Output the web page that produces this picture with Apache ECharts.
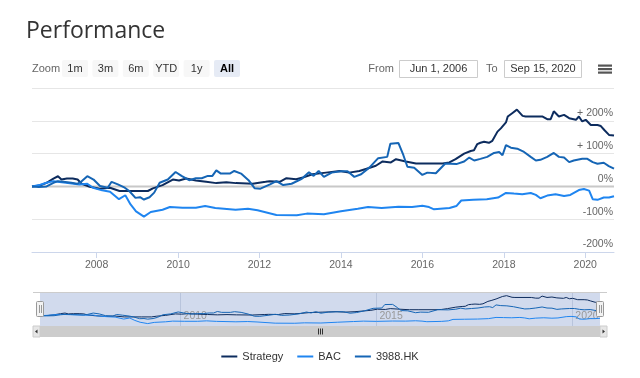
<!DOCTYPE html>
<html><head><meta charset="utf-8">
<script src="https://cdn.jsdelivr.net/npm/echarts@6/dist/echarts.min.js"></script>
<style>html,body{margin:0;padding:0;background:#fff}#c{width:640px;height:378px}</style>
</head><body><div id="c"></div>
<script>
// ---------- data ----------
const seriesNames = ['Strategy', 'BAC', '3988.HK'];
const seriesColors = ['#0d2c5e', '#1f85f0', '#1565b5'];

const strategyDates = ['2006-06-01','2006-08-15','2006-10-10','2006-12-10','2007-01-20','2007-02-20','2007-04-10','2007-06-01','2007-07-15','2007-08-20','2007-11-01','2008-01-30','2008-04-30','2008-07-25','2009-01-01','2009-04-05','2009-05-20','2009-08-15','2009-11-15','2010-01-10','2010-03-15','2010-06-10','2010-09-10','2010-12-10','2011-03-10','2011-06-05','2011-11-01','2012-02-25','2012-04-01','2012-07-01','2012-08-30','2012-11-25','2013-01-25','2013-04-20','2013-08-20','2013-12-20','2014-03-15','2014-06-15','2014-09-10','2014-11-10','2015-01-10','2015-03-25','2015-05-10','2015-08-05','2015-11-05','2016-02-01','2016-06-30','2016-08-30','2016-10-25','2017-01-10','2017-03-10','2017-04-08','2017-05-08','2017-06-05','2017-07-08','2017-08-20','2017-09-20','2017-11-05','2017-12-05','2018-01-20','2018-02-05','2018-03-20','2018-04-28','2018-06-18','2018-07-15','2018-12-15','2019-01-25','2019-02-25','2019-03-25','2019-05-10','2019-06-25','2019-08-10','2019-10-10','2019-11-05','2019-12-05','2020-01-05','2020-02-20','2020-04-20','2020-05-20','2020-06-20','2020-08-01','2020-09-15'];
const strategyValues = [0,3,11,24,31,21,24,24,21,8,-1,-7,-4,-14,-14,-14,-6,4,21,18,24,18,14,10,13,10,8,14,16,14,25,22,27,37,42,47,42,47,56,63,76,73,83,76,70,70,70,73,83,100,108,110,129,133,136,133,139,167,177,195,213,224,234,215,213,213,205,205,229,213,218,208,203,213,198,203,187,187,184,172,157,155];

const bacDates = ['2006-06-01','2006-08-15','2006-10-10','2006-12-10','2007-04-01','2007-08-01','2007-10-10','2007-12-01','2008-02-20','2008-05-01','2008-07-20','2008-09-15','2008-11-01','2008-12-20','2009-03-01','2009-05-01','2009-08-15','2009-10-20','2010-02-10','2010-06-10','2010-09-01','2010-12-01','2011-06-01','2011-09-20','2011-12-15','2012-06-01','2012-12-01','2013-03-01','2013-08-01','2014-01-01','2014-06-01','2014-09-01','2015-01-01','2015-06-01','2015-10-01','2016-01-01','2016-03-01','2016-04-15','2016-09-01','2016-11-01','2016-12-15','2017-04-01','2017-08-01','2017-11-10','2018-01-20','2018-04-01','2018-06-15','2018-08-30','2018-10-15','2018-11-25','2019-01-25','2019-04-10','2019-06-25','2019-08-20','2019-11-05','2019-12-20','2020-02-05','2020-03-08','2020-04-20','2020-06-15','2020-08-01','2020-09-15'];
const bacValues = [0,5,11,16,11,6,8,-4,-12,-16,-39,-27,-55,-76,-92,-78,-71,-63,-65,-65,-60,-66,-71,-68,-73,-87,-88,-83,-85,-76,-68,-63,-66,-62,-63,-59,-63,-70,-66,-60,-43,-41,-39,-34,-20,-22,-24,-20,-26,-36,-28,-24,-29,-26,-11,-8,-13,-39,-41,-34,-34,-30];

const hkDates = ['2006-06-01','2006-08-01','2006-10-10','2006-12-10','2007-01-20','2007-03-10','2007-05-20','2007-07-10','2007-08-15','2007-10-10','2007-12-05','2008-02-01','2008-04-10','2008-05-15','2008-07-10','2008-09-10','2008-10-20','2008-12-15','2009-01-25','2009-03-01','2009-04-20','2009-06-01','2009-07-20','2009-10-01','2009-12-10','2010-02-01','2010-04-10','2010-06-10','2010-08-01','2010-09-25','2010-11-05','2010-12-10','2011-01-20','2011-04-10','2011-05-20','2011-07-20','2011-09-25','2011-11-20','2012-01-10','2012-04-05','2012-06-01','2012-08-01','2012-10-15','2013-01-10','2013-03-20','2013-05-01','2013-06-15','2013-08-01','2013-10-10','2014-01-01','2014-03-01','2014-05-01','2014-07-01','2014-09-15','2014-12-01','2015-02-20','2015-03-20','2015-06-01','2015-07-15','2015-08-20','2015-10-20','2016-01-01','2016-02-15','2016-05-01','2016-07-25','2016-11-01','2017-01-10','2017-02-25','2017-04-10','2017-06-05','2017-08-05','2017-10-05','2017-11-20','2017-12-20','2018-01-20','2018-03-05','2018-05-01','2018-07-01','2018-08-30','2018-10-15','2018-11-25','2019-01-25','2019-03-25','2019-05-10','2019-06-25','2019-08-10','2019-09-20','2019-12-05','2020-01-20','2020-03-08','2020-04-20','2020-06-15','2020-07-30','2020-09-15'];
const hkValues = [0,-2,0,11,16,14,11,8,14,31,21,1,-4,14,6,-4,-14,-35,-33,-40,-33,-19,11,21,44,32,19,25,25,32,32,49,39,39,47,39,19,-6,-7,6,16,4,8,22,43,32,47,29,42,46,46,29,37,58,86,90,130,132,95,60,57,35,42,40,70,68,76,88,79,84,90,102,105,95,126,118,115,105,90,79,81,90,102,90,88,74,79,84,84,74,69,72,62,54];

const startDate = '2006-06-01';
const endDate = '2020-09-15';
const mainTickYears = [2008, 2010, 2012, 2014, 2016, 2018, 2020];
const navTickYears = [2010, 2015, 2020];
const rangeButtons = ['1m', '3m', '6m', 'YTD', '1y', 'All'];
const fromLabel = 'Jun 1, 2006';
const toLabel = 'Sep 15, 2020';

// ---------- chart ----------
const chart = echarts.init(document.getElementById('c'));
const ts = s => { const p = s.split('-').map(Number); return Date.UTC(p[0], p[1] - 1, p[2]); };
const pairs = (d, v) => d.map((x, i) => [ts(x), v[i]]);
const yearTs = y => Date.UTC(y, 0, 1);
const yearFmt = v => String(new Date(v + 86400000 * 2).getUTCFullYear());
const F = 'Liberation Sans';
const xMin = ts(startDate), xMax = ts(endDate);
const allData = [pairs(strategyDates, strategyValues), pairs(bacDates, bacValues), pairs(hkDates, hkValues)];

const mainSeries = seriesNames.map((n, i) => ({
  name: n, type: 'line', data: allData[i], symbol: 'none', silent: true,
  xAxisIndex: 0, yAxisIndex: 0, z: 3 + i,
  lineStyle: { color: seriesColors[i], width: 2 }, itemStyle: { color: seriesColors[i] }
}));
const navSeries = seriesNames.map((n, i) => ({
  name: n + ' nav', type: 'line', data: allData[i], symbol: 'none', silent: true,
  xAxisIndex: 1, yAxisIndex: 1, z: 3,
  lineStyle: { color: seriesColors[i], width: 1 }
}));
const zeroLine = {
  name: 'zero', type: 'line', data: [[xMin, 0], [xMax, 0]], symbol: 'none', silent: true,
  xAxisIndex: 0, yAxisIndex: 0, z: 2, lineStyle: { color: '#c8c8c8', width: 2 }
};

// decorations (range selector, inputs, navigator handles, scrollbar)
const g = [];
g.push({ type: 'text', x: 32, y: 69, style: { text: 'Zoom', fill: '#666', font: '11px ' + F, textVerticalAlign: 'middle' } });
rangeButtons.forEach((b, i) => {
  const x = 62 + i * 30.4, sel = b === 'All';
  g.push({ type: 'rect', shape: { x: x, y: 60, width: 26, height: 17, r: 2 }, style: { fill: sel ? '#e6ebf5' : '#f7f7f7' } });
  g.push({ type: 'text', x: x + 13, y: 68.5, style: { text: b, fill: sel ? '#000' : '#333', font: (sel ? 'bold ' : '') + '11px ' + F, textAlign: 'center', textVerticalAlign: 'middle' } });
});
g.push({ type: 'text', x: 394, y: 69, style: { text: 'From', fill: '#666', font: '11px ' + F, textAlign: 'right', textVerticalAlign: 'middle' } });
g.push({ type: 'rect', shape: { x: 399.5, y: 60.5, width: 78, height: 17 }, style: { fill: '#fff', stroke: '#ccc', lineWidth: 1 } });
g.push({ type: 'text', x: 438.5, y: 69, style: { text: fromLabel, fill: '#333', font: '11px ' + F, textAlign: 'center', textVerticalAlign: 'middle' } });
g.push({ type: 'text', x: 486, y: 69, style: { text: 'To', fill: '#666', font: '11px ' + F, textAlign: 'left', textVerticalAlign: 'middle' } });
g.push({ type: 'rect', shape: { x: 504.5, y: 60.5, width: 77, height: 17 }, style: { fill: '#fff', stroke: '#ccc', lineWidth: 1 } });
g.push({ type: 'text', x: 543, y: 69, style: { text: toLabel, fill: '#333', font: '11px ' + F, textAlign: 'center', textVerticalAlign: 'middle' } });
[65.5, 69, 72.5].forEach(y => g.push({ type: 'rect', shape: { x: 598, y: y - 1, width: 14, height: 2.2 }, style: { fill: '#555' } }));
g.push({ type: 'line', shape: { x1: 33, y1: 292.5, x2: 607, y2: 292.5 }, style: { stroke: '#cccccc', lineWidth: 1 }, z: 10 });
g.push({ type: 'rect', shape: { x: 33, y: 326, width: 574, height: 11 }, style: { fill: '#f2f2f2' }, z: 10 });
g.push({ type: 'rect', shape: { x: 40, y: 326, width: 560, height: 11 }, style: { fill: '#cccccc' }, z: 10 });
g.push({ type: 'rect', shape: { x: 33, y: 326, width: 7, height: 11 }, style: { fill: '#e6e6e6', stroke: '#cccccc', lineWidth: 1 }, z: 10 });
g.push({ type: 'rect', shape: { x: 600, y: 326, width: 7, height: 11 }, style: { fill: '#e6e6e6', stroke: '#cccccc', lineWidth: 1 }, z: 10 });
g.push({ type: 'polygon', shape: { points: [[37.5, 329.5], [37.5, 333.5], [35, 331.5]] }, style: { fill: '#333' }, z: 11 });
g.push({ type: 'polygon', shape: { points: [[602.5, 329.5], [602.5, 333.5], [605, 331.5]] }, style: { fill: '#333' }, z: 11 });
[318, 320, 322].forEach(x => g.push({ type: 'line', shape: { x1: x + 0.5, y1: 328.5, x2: x + 0.5, y2: 334.5 }, style: { stroke: '#333', lineWidth: 1 }, z: 11 }));
[40, 600].forEach(x => {
  g.push({ type: 'rect', shape: { x: x - 3.5, y: 301.5, width: 7, height: 15, r: 1 }, style: { fill: '#f2f2f2', stroke: '#999', lineWidth: 1 }, z: 12 });
  [x - 1, x + 1].forEach(xx => g.push({ type: 'line', shape: { x1: xx + 0.5, y1: 305, x2: xx + 0.5, y2: 313 }, style: { stroke: '#999', lineWidth: 1 }, z: 13 }));
});

const option = {
  animation: false,
  title: { text: 'Performance', left: 21, top: 15, textStyle: { fontFamily: 'Open Sans', fontSize: 23, fontWeight: 'normal', color: '#333' } },
  legend: {
    data: seriesNames, bottom: 11, left: 'center', icon: 'rect', itemWidth: 16, itemHeight: 2, itemGap: 14,
    textStyle: { fontFamily: F, fontSize: 11, color: '#333' }, selectedMode: false
  },
  grid: [
    { left: 32, right: 26, top: 88, height: 164 },
    { left: 40, right: 40, top: 293, height: 33, show: true, backgroundColor: 'rgba(102,133,194,0.3)', borderWidth: 0 }
  ],
  xAxis: [
    {
      type: 'value', gridIndex: 0, min: xMin, max: xMax,
      axisLine: { onZero: false, lineStyle: { color: '#ccd6eb' } },
      axisTick: { show: true, length: 6, lineStyle: { color: '#ccd6eb' }, customValues: mainTickYears.map(yearTs) },
      axisLabel: { customValues: mainTickYears.map(yearTs), formatter: yearFmt, color: '#666', fontFamily: F, fontSize: 10.5, margin: 8 },
      splitLine: { show: false }
    },
    {
      type: 'value', gridIndex: 1, min: xMin, max: xMax,
      axisLine: { show: false, onZero: false },
      axisTick: { show: false, customValues: navTickYears.map(yearTs) },
      axisLabel: { inside: true, customValues: navTickYears.map(yearTs), formatter: yearFmt, align: 'left', padding: [0, 0, 0, 3], color: '#999', fontFamily: F, fontSize: 10.5, margin: 4 },
      splitLine: { show: true, lineStyle: { color: '#b8c4dc', width: 1 } }
    }
  ],
  yAxis: [
    {
      type: 'value', gridIndex: 0, position: 'right', min: -200, max: 300, interval: 100,
      axisLine: { show: false }, axisTick: { show: false },
      splitLine: { lineStyle: { color: '#e6e6e6' } },
      axisLabel: { inside: true, showMaxLabel: false, verticalAlign: 'bottom', margin: 1, padding: [0, 0, 2, 0],
        color: '#666', fontFamily: F, fontSize: 10.5,
        formatter: v => (v > 0 ? '+ ' + v + '%' : v + '%') }
    },
    { type: 'value', gridIndex: 1, min: -120, max: 265, show: false }
  ],
  graphic: g,
  series: [zeroLine].concat(mainSeries, navSeries)
};
chart.setOption(option);
</script></body></html>
